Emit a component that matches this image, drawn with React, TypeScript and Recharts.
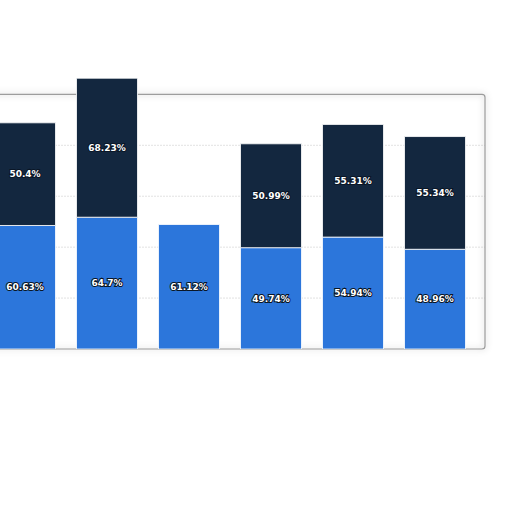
import { Bar, BarChart, CartesianGrid, LabelList, ReferenceArea, XAxis, YAxis } from "recharts";

const categories = ["1", "2", "3", "4", "5", "6"];
const lowerShare = [60.63, 64.7, 61.12, 49.74, 54.94, 48.96];
const upperShare: (number | null)[] = [50.4, 68.23, null, 50.99, 55.31, 55.34];
const gridTicks = [0, 25, 50, 75, 100, 125];

const data = categories.map((name, i) => ({
	name,
	lower: lowerShare[i],
	upper: upperShare[i],
}));

const BLUE = "#2c76db";
const NAVY = "#13273f";

const fmt = (v: unknown) => (v == null ? "" : `${v}%`);

const labelStyle = {
	fill: "#ffffff",
	fontSize: 9,
	fontWeight: 700,
	fontFamily: "DejaVu Sans, sans-serif",
	stroke: "#0a1626",
	strokeWidth: 2,
	paintOrder: "stroke",
} as const;

// panel outline, reaching past the band range on both sides
const Frame = (props: any) => {
	const { x, y, width, height } = props;
	return (
		<rect
			x={x - 40}
			y={y}
			width={width + 40 + 9.5}
			height={height}
			rx={3}
			fill="none"
			stroke="#9c9c9c"
			strokeWidth={1.2}
			style={{ filter: "drop-shadow(0 0 3px rgba(0,0,0,0.3))" }}
		/>
	);
};

export default function App() {
	return (
		<div style={{ position: "absolute", left: -30, top: 0, width: 540, height: 512 }}>
			<BarChart
				width={540}
				height={512}
				data={data}
				margin={{ top: 74, right: 25, bottom: 163, left: 13.5 }}
				barSize={61}
			>
				<XAxis dataKey="name" hide padding={{ left: 0, right: 9.5 }} />
				<YAxis hide domain={[0, 135]} ticks={gridTicks} allowDataOverflow />
				<CartesianGrid
					vertical={false}
					stroke="#c4c4c4"
					strokeDasharray="1 2"
					horizontalValues={[25, 50, 75, 100]}
				/>
				<ReferenceArea y1={0} y2={125} shape={Frame} ifOverflow="visible" />
				<Bar dataKey="lower" stackId="s" fill={BLUE} stroke="#ffffff" strokeWidth={0.8} isAnimationActive={false}>
					<LabelList dataKey="lower" position="center" formatter={fmt} style={labelStyle} />
				</Bar>
				<Bar dataKey="upper" stackId="s" fill={NAVY} stroke="#ffffff" strokeWidth={0.8} isAnimationActive={false}>
					<LabelList dataKey="upper" position="center" formatter={fmt} style={labelStyle} />
				</Bar>
			</BarChart>
		</div>
	);
}
